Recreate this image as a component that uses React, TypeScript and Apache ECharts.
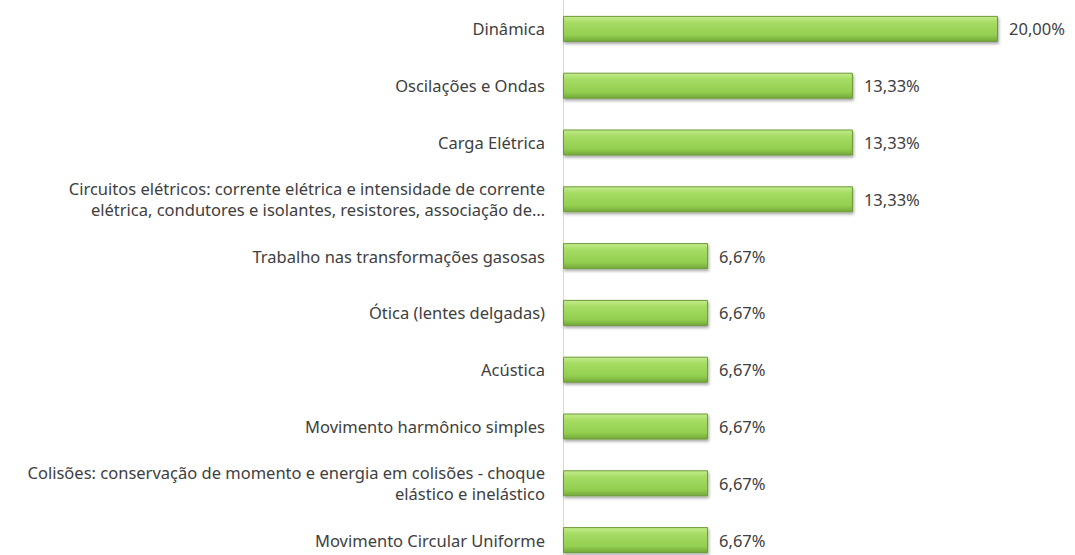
import React, { useEffect, useRef } from "react";
import * as echarts from "echarts";

const categories = [
  "Dinâmica",
  "Oscilações e Ondas",
  "Carga Elétrica",
  "Circuitos elétricos: corrente elétrica e intensidade de corrente\nelétrica, condutores e isolantes, resistores, associação de…",
  "Trabalho nas transformações gasosas",
  "Ótica (lentes delgadas)",
  "Acústica",
  "Movimento harmônico simples",
  "Colisões: conservação de momento e energia em colisões - choque\nelástico e inelástico",
  "Movimento Circular Uniforme",
];
const values = [20.0, 13.33, 13.33, 13.33, 6.67, 6.67, 6.67, 6.67, 6.67, 6.67];

export default function App() {
  const ref = useRef<HTMLDivElement>(null);
  useEffect(() => {
    if (!ref.current) return;
    const chart = echarts.init(ref.current, null, { renderer: "svg" });
    const font = "Noto Sans";
    chart.setOption({
      animation: false,
      grid: { left: 563, right: 77, top: 0.5, height: 568 },
      xAxis: {
        type: "value",
        min: 0,
        max: 20,
        show: false,
      },
      yAxis: {
        type: "category",
        inverse: true,
        data: categories,
        axisLine: { show: true, lineStyle: { color: "#d9d9d9", width: 1 } },
        axisTick: { show: false },
        axisLabel: {
          color: "#404040",
          fontFamily: font,
          fontSize: 16.5,
          margin: 18,
          lineHeight: 21,
          align: "right",
        },
      },
      series: [
        {
          type: "bar",
          data: values,
          barWidth: 26,
          itemStyle: {
            color: new echarts.graphic.LinearGradient(0, 0, 0, 1, [
              { offset: 0, color: "#c3ec8c" },
              { offset: 0.25, color: "#a6dc64" },
              { offset: 0.75, color: "#93cf50" },
              { offset: 1, color: "#74a83a" },
            ]),
            borderColor: "#6d9a38",
            borderWidth: 1,
            shadowBlur: 3,
            shadowOffsetY: 2,
            shadowOffsetX: 1,
            shadowColor: "rgba(0,0,0,0.35)",
          },
          label: {
            show: true,
            position: "right",
            distance: 11,
            color: "#404040",
            fontFamily: font,
            fontSize: 16.5,
            formatter: (p: any) => p.value.toFixed(2).replace(".", ",") + "%",
          },
        },
      ],
    });
    return () => chart.dispose();
  }, []);
  return (
    <div
      ref={ref}
      style={{ position: "fixed", left: 0, top: 0, width: 1075, height: 575, background: "#fff" }}
    />
  );
}
